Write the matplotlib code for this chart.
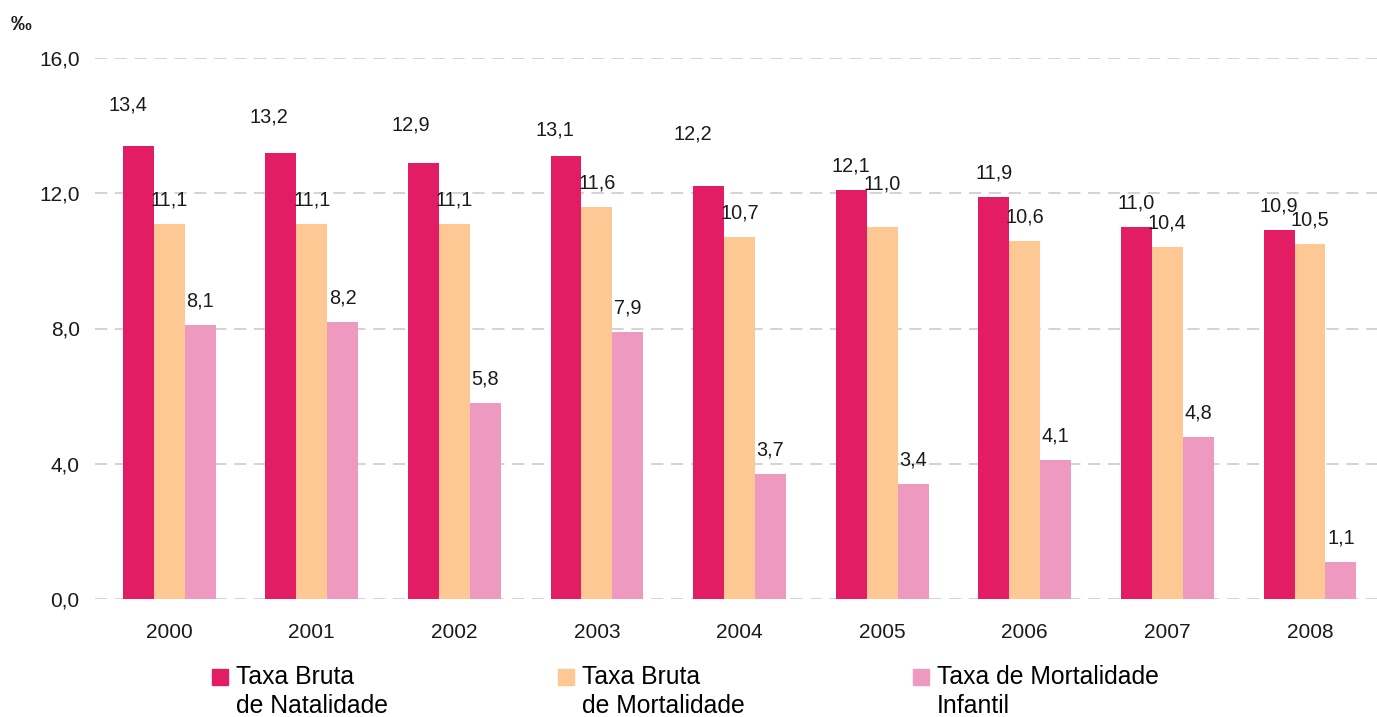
import numpy as np
import matplotlib
matplotlib.use("Agg")
from matplotlib import pyplot as plt
from matplotlib.patches import Rectangle

plt.rcParams['font.family'] = ['Liberation Sans', 'DejaVu Sans']

years = ['2000', '2001', '2002', '2003', '2004', '2005', '2006', '2007', '2008']
natalidade = [13.4, 13.2, 12.9, 13.1, 12.2, 12.1, 11.9, 11.0, 10.9]
mortalidade = [11.1, 11.1, 11.1, 11.6, 10.7, 11.0, 10.6, 10.4, 10.5]
mort_infantil = [8.1, 8.2, 5.8, 7.9, 3.7, 3.4, 4.1, 4.8, 1.1]

series_names = [['Taxa Bruta', 'de Natalidade'],
                ['Taxa Bruta', 'de Mortalidade'],
                ['Taxa de Mortalidade', 'Infantil']]
colors = ['#E31D63', '#FDC894', '#EE9AC0']

# label nudges in pixels (dx, extra dy) - the original places some labels higher
nudge_nat = [(-10, 17), (-12, 12), (-13, 14), (-11, 2), (-16, 28), (0, 0), (0, 0), (0, 0), (0, 0)]
nudge_mort = [(0, 0)] * 5 + [(0, 19)] + [(0, 0)] * 3
nudge_inf = [(0, 0)] * 9

W, H = 1377, 717
fig = plt.figure(figsize=(W / 100, H / 100), dpi=100)
ax = fig.add_axes([95 / W, (H - 599) / H, (W - 95) / W, (599 - 58) / H])

x = np.arange(len(years))
width = 0.217
all_series = [natalidade, mortalidade, mort_infantil]
all_nudges = [nudge_nat, nudge_mort, nudge_inf]

for k, (vals, col, nud) in enumerate(zip(all_series, colors, all_nudges)):
    pos = x + (k - 1) * width
    ax.bar(pos, vals, width=width, color=col, zorder=3)
    for xi, v, (dx, dy) in zip(pos, vals, nud):
        ax.annotate(f'{v:.1f}'.replace('.', ','), (xi, v), xytext=(dx, 24 + dy),
                    textcoords='offset pixels', ha='center', va='center',
                    fontsize=14.3, color='#1a1a1a', zorder=4)

ax.set_ylim(0, 16)
ax.set_xlim(-0.52, 8.47)
ax.set_yticks([0, 4, 8, 12, 16])
ax.set_yticklabels(['0,0', '4,0', '8,0', '12,0', '16,0'])
ax.set_xticks(x)
ax.set_xticklabels(years)
ax.tick_params(axis='both', length=0, labelsize=15, colors='#1a1a1a')
ax.tick_params(axis='y', pad=11)
ax.tick_params(axis='x', pad=17)
for s in ax.spines.values():
    s.set_visible(False)
ax.yaxis.grid(True, color='#C8C8C8', linewidth=1.1, dashes=(8, 5), zorder=0)
ax.set_axisbelow(True)

fig.text(11 / W, 1 - 25 / H, '‰', fontsize=15, fontweight='bold', ha='left', va='center', color='#1a1a1a')

# legend drawn by hand: square next to first line of a two-line label
leg_x = [212, 558, 913]
for lx, col, name in zip(leg_x, colors, series_names):
    fig.add_artist(Rectangle((lx / W, 1 - 685 / H), 16 / W, 16 / H,
                             transform=fig.transFigure, color=col))
    fig.text((lx + 24) / W, 1 - 677 / H, name[0], fontsize=17.8, va='center', ha='left')
    fig.text((lx + 24) / W, 1 - 706 / H, name[1], fontsize=17.8, va='center', ha='left')

plt.savefig('out.png', dpi=100)
